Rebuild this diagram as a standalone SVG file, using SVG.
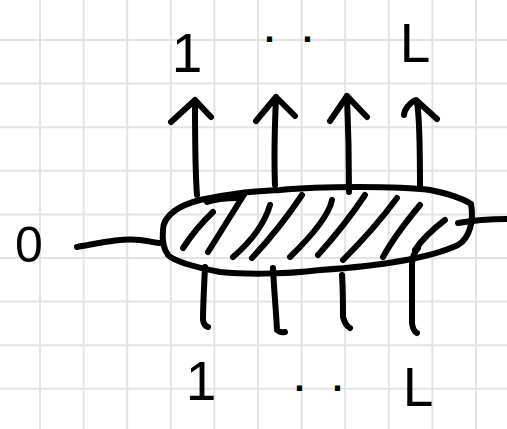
<svg xmlns="http://www.w3.org/2000/svg" width="507" height="429" viewBox="0 0 507 429">
<style>
.grid line{stroke:#e3e3e3;stroke-width:2}
.ink{fill:none;stroke:#000;stroke-width:6;stroke-linecap:round;stroke-linejoin:round}
.lbl{font-family:"Liberation Sans",Arial,sans-serif;font-size:55px;fill:#000;text-anchor:middle}
.dots{font-size:36px;font-weight:bold;letter-spacing:9px}
</style>
<rect width="507" height="429" fill="#fff"/>
<g class="grid">
<line x1="40" y1="0" x2="40" y2="429"/><line x1="83.6" y1="0" x2="83.6" y2="429"/><line x1="127.2" y1="0" x2="127.2" y2="429"/><line x1="170.8" y1="0" x2="170.8" y2="429"/><line x1="214.4" y1="0" x2="214.4" y2="429"/><line x1="258" y1="0" x2="258" y2="429"/><line x1="301.6" y1="0" x2="301.6" y2="429"/><line x1="345.2" y1="0" x2="345.2" y2="429"/><line x1="388.8" y1="0" x2="388.8" y2="429"/><line x1="432.4" y1="0" x2="432.4" y2="429"/><line x1="476" y1="0" x2="476" y2="429"/>
<line x1="0" y1="40" x2="507" y2="40"/><line x1="0" y1="83.6" x2="507" y2="83.6"/><line x1="0" y1="127.2" x2="507" y2="127.2"/><line x1="0" y1="170.8" x2="507" y2="170.8"/><line x1="0" y1="214.4" x2="507" y2="214.4"/><line x1="0" y1="258" x2="507" y2="258"/><line x1="0" y1="301.6" x2="507" y2="301.6"/><line x1="0" y1="345.2" x2="507" y2="345.2"/><line x1="0" y1="388.8" x2="507" y2="388.8"/>
</g>
<g id="block">
<path class="ink" d="M163,230 C163,215 180,205 200,200 C230,193 250,192 280,190 C320,186 400,186 430,190 C450,194 462,198 471,204 C474,220 470,238 458,245 C430,258 380,266 320,270 C280,275 240,274 220,272 C195,267 175,262 168,255 C163,248 162,240 163,230 Z"/>
<path class="ink" d="M207,202 C215,199 228,198 238,198"/>
<path class="ink" d="M213,212 Q196,228 183,248"/>
<path class="ink" d="M245,193 Q225,225 208,252"/>
<path class="ink" d="M270,205 Q262,232 233,257"/>
<path class="ink" d="M302,195 Q280,228 252,258"/>
<path class="ink" d="M332,200 Q328,220 290,257"/>
<path class="ink" d="M365,195 Q345,225 318,255"/>
<path class="ink" d="M397,198 Q375,228 343,260"/>
<path class="ink" d="M420,205 Q395,235 383,257"/>
<path class="ink" d="M445,220 Q425,235 415,250"/>
</g>
<g id="connectors" class="ink">
<path d="M77,247 C100,243 120,238 140,240 C150,241 155,243 160,243"/>
<path d="M458,223 C475,220 490,219 507,219"/>
<path d="M197,195 C195,170 195,130 195,100 M171,122 L195,100 L211,117"/>
<path d="M275,185 C274,160 275,120 276,97 M256,121 L276,97 L295,116"/>
<path d="M349,192 C349,160 348,120 347,96 M330,121 L347,96 L367,117"/>
<path d="M420,187 C420,160 420,120 417,102 M404,115 C404,110 410,102 416,100 L437,119"/>
<path d="M205,267 C204,290 203,305 203,320 Q204,326 208,327"/>
<path d="M273,268 C274,290 276,310 277,330 Q280,333 285,332"/>
<path d="M342,275 C343,290 343,305 343,317 Q345,325 350,328"/>
<path d="M418,248 Q412,255 412,265 C412,285 412,305 412,323 Q413,331 417,333"/>
</g>
<g id="labels-top">
<text class="lbl" x="187" y="72">1</text>
<text class="lbl dots" x="293" y="42">. .</text>
<text class="lbl" x="415" y="62">L</text>
</g>
<g id="labels-bottom">
<text class="lbl" x="201" y="400">1</text>
<text class="lbl dots" x="323" y="391">. .</text>
<text class="lbl" x="418" y="406">L</text>
</g>
<g id="input-label">
<text class="lbl" x="29" y="262" style="font-size:50px">0</text>
</g>
</svg>
